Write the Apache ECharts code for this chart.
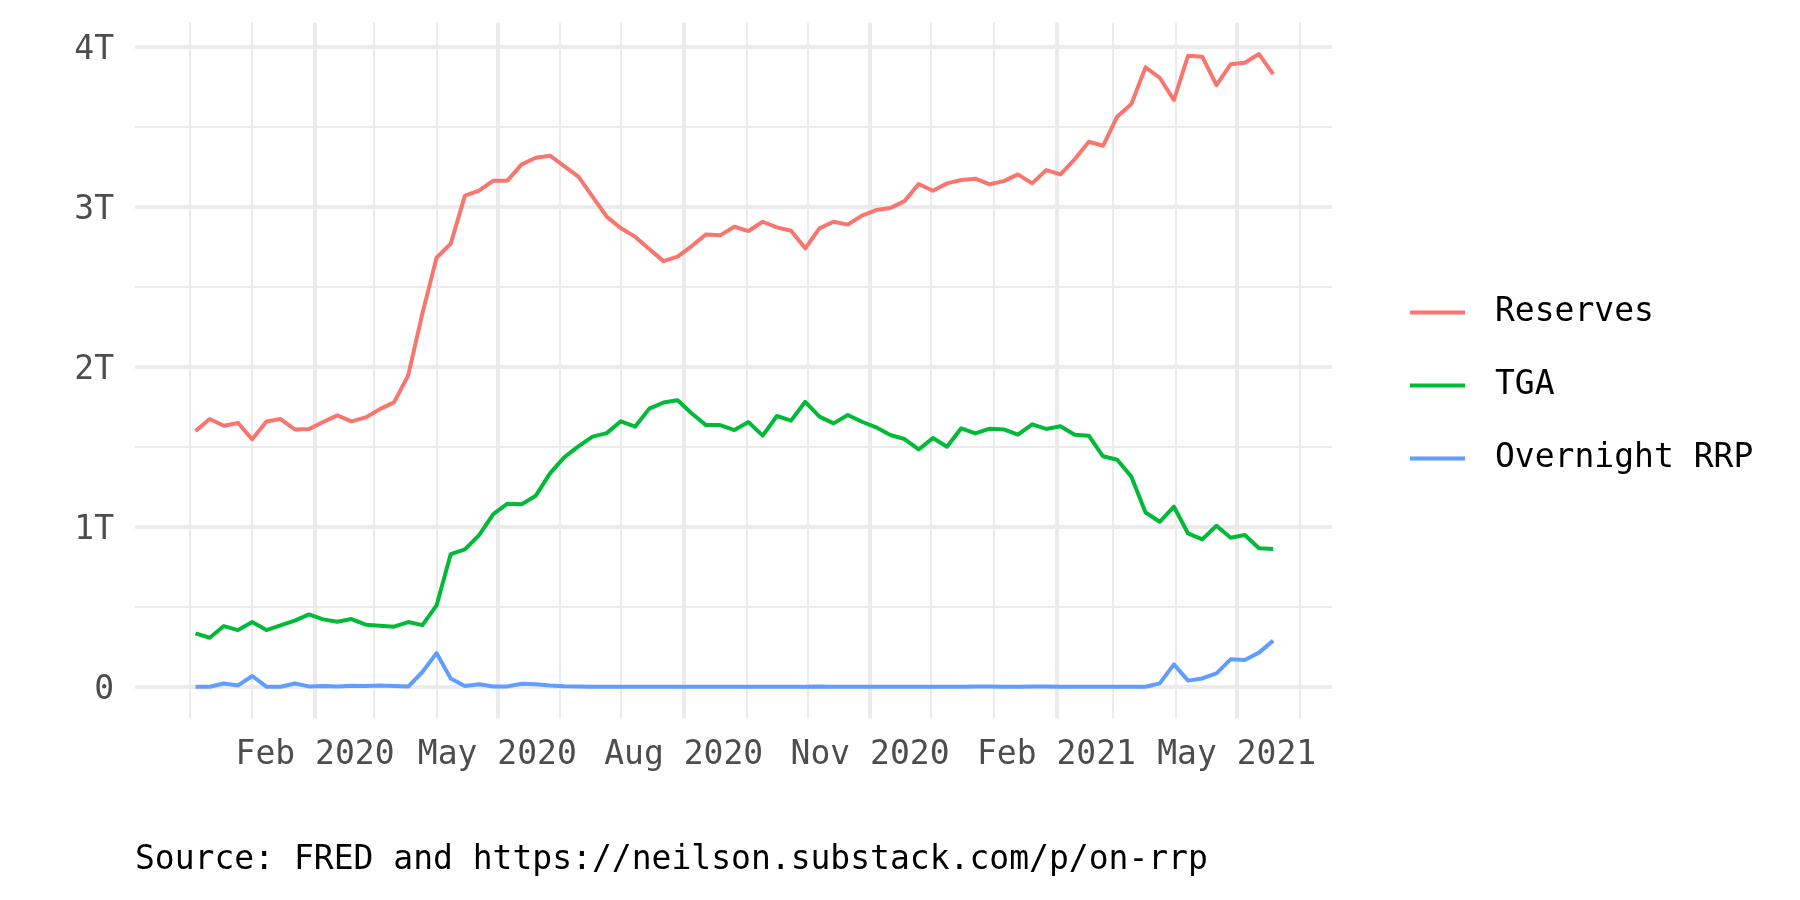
<!DOCTYPE html>
<html>
<head>
<meta charset="utf-8">
<script src="https://cdn.jsdelivr.net/npm/echarts@6/dist/echarts.min.js"></script>
<style>
  html, body { margin: 0; padding: 0; background: #ffffff; }
  #chart { width: 1800px; height: 900px; }
</style>
</head>
<body>
<div id="chart"></div>
<script>
// ---- data (weekly, Wednesdays) ----
const dates = [
  '2019-12-04','2019-12-11','2019-12-18','2019-12-25',
  '2020-01-01','2020-01-08','2020-01-15','2020-01-22','2020-01-29',
  '2020-02-05','2020-02-12','2020-02-19','2020-02-26',
  '2020-03-04','2020-03-11','2020-03-18','2020-03-25',
  '2020-04-01','2020-04-08','2020-04-15','2020-04-22','2020-04-29',
  '2020-05-06','2020-05-13','2020-05-20','2020-05-27',
  '2020-06-03','2020-06-10','2020-06-17','2020-06-24',
  '2020-07-01','2020-07-08','2020-07-15','2020-07-22','2020-07-29',
  '2020-08-05','2020-08-12','2020-08-19','2020-08-26',
  '2020-09-02','2020-09-09','2020-09-16','2020-09-23','2020-09-30',
  '2020-10-07','2020-10-14','2020-10-21','2020-10-28',
  '2020-11-04','2020-11-11','2020-11-18','2020-11-25',
  '2020-12-02','2020-12-09','2020-12-16','2020-12-23','2020-12-30',
  '2021-01-06','2021-01-13','2021-01-20','2021-01-27',
  '2021-02-03','2021-02-10','2021-02-17','2021-02-24',
  '2021-03-03','2021-03-10','2021-03-17','2021-03-24','2021-03-31',
  '2021-04-07','2021-04-14','2021-04-21','2021-04-28',
  '2021-05-05','2021-05-12','2021-05-19'
];

// values in trillions of dollars
const reserves = [
  1.598, 1.673, 1.631, 1.648, 1.546, 1.658, 1.673, 1.608, 1.610, 1.654,
  1.696, 1.658, 1.683, 1.735, 1.777, 1.946, 2.333, 2.681, 2.769, 3.069,
  3.100, 3.163, 3.163, 3.265, 3.306, 3.319, 3.254, 3.188, 3.063, 2.938,
  2.865, 2.813, 2.735, 2.660, 2.688, 2.754, 2.827, 2.821, 2.875, 2.848,
  2.906, 2.871, 2.850, 2.740, 2.865, 2.906, 2.888, 2.944, 2.979, 2.992,
  3.035, 3.142, 3.100, 3.146, 3.167, 3.175, 3.140, 3.160, 3.202, 3.146,
  3.229, 3.202, 3.296, 3.406, 3.381, 3.563, 3.642, 3.871, 3.806, 3.667,
  3.944, 3.938, 3.760, 3.890, 3.900, 3.954, 3.829
];

const tga = [
  0.333, 0.306, 0.379, 0.354, 0.404, 0.354, 0.383, 0.413, 0.452, 0.421,
  0.406, 0.423, 0.388, 0.381, 0.375, 0.404, 0.385, 0.508, 0.829, 0.858,
  0.948, 1.079, 1.144, 1.140, 1.194, 1.333, 1.433, 1.502, 1.563, 1.585,
  1.659, 1.625, 1.738, 1.776, 1.790, 1.708, 1.635, 1.635, 1.604, 1.654,
  1.569, 1.692, 1.663, 1.781, 1.688, 1.646, 1.698, 1.656, 1.621, 1.573,
  1.548, 1.483, 1.554, 1.500, 1.615, 1.583, 1.613, 1.608, 1.575, 1.640,
  1.611, 1.628, 1.575, 1.569, 1.440, 1.419, 1.313, 1.089, 1.031, 1.125,
  0.958, 0.921, 1.006, 0.931, 0.948, 0.865, 0.860
];

const rrp = [
  0.000, 0.000, 0.020, 0.008, 0.067, 0.000, 0.000, 0.020, 0.002, 0.004,
  0.001, 0.006, 0.004, 0.008, 0.004, 0.001, 0.092, 0.210, 0.052, 0.004,
  0.015, 0.002, 0.002, 0.019, 0.015, 0.008, 0.003, 0.001, 0.000, 0.000,
  0.000, 0.000, 0.000, 0.000, 0.000, 0.000, 0.000, 0.000, 0.000, 0.000,
  0.000, 0.000, 0.000, 0.000, 0.001, 0.000, 0.000, 0.000, 0.000, 0.000,
  0.000, 0.000, 0.000, 0.000, 0.000, 0.001, 0.001, 0.000, 0.000, 0.001,
  0.001, 0.000, 0.000, 0.000, 0.000, 0.000, 0.000, 0.000, 0.021, 0.140,
  0.038, 0.052, 0.083, 0.171, 0.167, 0.213, 0.288
];

const seriesNames = ['Reserves', 'TGA', 'Overnight RRP'];
const seriesColors = ['#F8766D', '#00BA38', '#619CFF'];

// axis ticks
const yMajorTicks = [0, 1, 2, 3, 4];
const yMinorTicks = [0.5, 1.5, 2.5, 3.5];
const xMajorTicks = ['2020-02-01','2020-05-01','2020-08-01','2020-11-01','2021-02-01','2021-05-01'];
const xMinorTicks = ['2019-12-01','2020-01-01','2020-03-01','2020-04-01','2020-06-01','2020-07-01',
                     '2020-09-01','2020-10-01','2020-12-01','2021-01-01','2021-03-01','2021-04-01','2021-06-01'];
const monthNames = ['Jan','Feb','Mar','Apr','May','Jun','Jul','Aug','Sep','Oct','Nov','Dec'];
const caption = 'Source: FRED and https://neilson.substack.com/p/on-rrp';

// ---- build ----
const t = s => Date.parse(s.length === 10 ? s + 'T00:00:00Z' : s);
const pairs = vals => dates.map((d, i) => [t(d), vals[i]]);

const FONT = '"DejaVu Sans Mono", "Liberation Mono", monospace';
const GRID = '#EBEBEB';

const gridLines = [];
yMinorTicks.forEach(v => gridLines.push({ yAxis: v, lineStyle: { color: GRID, width: 2, type: 'solid' } }));
xMinorTicks.forEach(d => gridLines.push({ xAxis: t(d), lineStyle: { color: GRID, width: 2, type: 'solid' } }));
yMajorTicks.forEach(v => gridLines.push({ yAxis: v, lineStyle: { color: GRID, width: 4, type: 'solid' } }));
xMajorTicks.forEach(d => gridLines.push({ xAxis: t(d), lineStyle: { color: GRID, width: 4, type: 'solid' } }));

const chart = echarts.init(document.getElementById('chart'), null, { renderer: 'canvas' });

const dataSeries = [reserves, tga, rrp].map((vals, k) => ({
  name: seriesNames[k],
  type: 'line',
  data: pairs(vals),
  showSymbol: false,
  symbol: 'none',
  z: 3 + k,
  lineStyle: { color: seriesColors[k], width: 4, join: 'round', cap: 'butt' },
  itemStyle: { color: seriesColors[k] },
  emphasis: { disabled: true }
}));

chart.setOption({
  animation: false,
  backgroundColor: '#ffffff',
  textStyle: { fontFamily: FONT },
  title: {
    text: caption,
    left: 135,
    top: 844,
    padding: 0,
    textStyle: { fontFamily: FONT, fontSize: 33, fontWeight: 'normal', color: '#000000', lineHeight: 33 }
  },
  legend: {
    data: seriesNames,
    orient: 'vertical',
    left: 1410,
    top: 296,
    padding: 0,
    itemGap: 40,
    itemWidth: 55,
    itemHeight: 4,
    icon: 'rect',
    selectedMode: false,
    textStyle: { fontFamily: FONT, fontSize: 33, color: '#000000', lineHeight: 33, padding: [0, 0, 0, 25] }
  },
  grid: {
    left: 135,
    width: 1197,
    top: 22.4,
    height: 696,
    containLabel: false,
    outerBoundsMode: 'none'
  },
  xAxis: {
    type: 'value',
    min: t('2019-11-04T03:00:00Z'),
    max: t('2021-06-17T01:00:00Z'),
    axisLine: { show: false },
    axisTick: { show: false, customValues: xMajorTicks.map(t) },
    splitLine: { show: false },
    axisLabel: {
      customValues: xMajorTicks.map(t),
      margin: 21,
      fontFamily: FONT,
      fontSize: 33,
      color: '#4D4D4D',
      lineHeight: 33,
      hideOverlap: false,
      formatter: v => { const d = new Date(v); return monthNames[d.getUTCMonth()] + ' ' + d.getUTCFullYear(); }
    }
  },
  yAxis: {
    type: 'value',
    min: -0.198,
    max: 4.152,
    axisLine: { show: false },
    axisTick: { show: false, customValues: yMajorTicks },
    splitLine: { show: false },
    axisLabel: {
      customValues: yMajorTicks,
      margin: 21,
      fontFamily: FONT,
      fontSize: 33,
      lineHeight: 8,
      verticalAlign: 'top',
      color: '#4D4D4D',
      formatter: v => (v === 0 ? '0' : v + 'T')
    }
  },
  series: [
    {
      name: 'gridlines',
      type: 'line',
      data: [],
      z: 1,
      silent: true,
      markLine: {
        z: 1,
        silent: true,
        animation: false,
        symbol: ['none', 'none'],
        label: { show: false },
        emphasis: { disabled: true },
        data: gridLines
      }
    }
  ].concat(dataSeries)
});
</script>
</body>
</html>
